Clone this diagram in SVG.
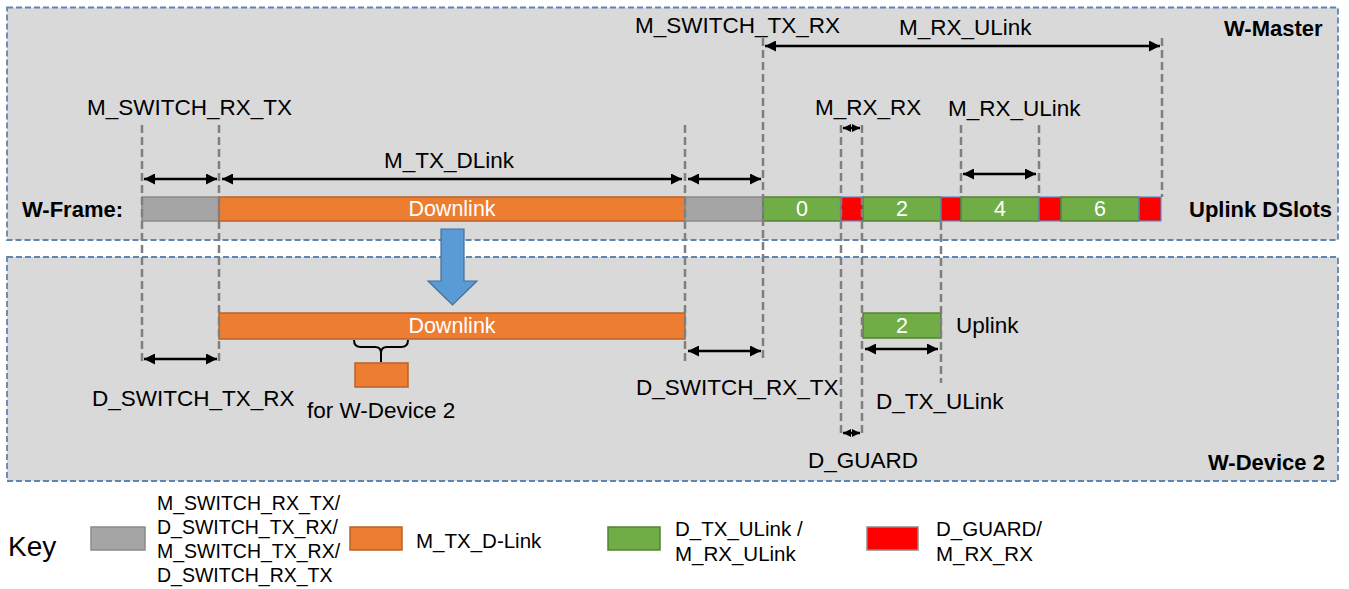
<svg xmlns="http://www.w3.org/2000/svg" width="1349" height="589" viewBox="0 0 1349 589">
  <style>
    .panel { fill: #d9d9d9; stroke: #5f86b3; stroke-width: 1.8; stroke-dasharray: 6 3; }
    .lbl { font-family: "Liberation Sans", Arial, sans-serif; font-size: 22.5px; fill: #000; }
    .bold { font-family: "Liberation Sans", Arial, sans-serif; font-size: 22px; font-weight: bold; fill: #000; }
    .inbar { font-family: "Liberation Sans", Arial, sans-serif; font-size: 21.5px; fill: #fff; text-anchor: middle; }
    .key { font-family: "Liberation Sans", Arial, sans-serif; font-size: 19.5px; fill: #000; }
    .gray { fill: #a5a5a5; stroke: #8a8a8a; stroke-width: 1.5; }
    .orange { fill: #ed7d31; stroke: #b8612a; stroke-width: 1.5; }
    .green { fill: #70ad47; stroke: #548235; stroke-width: 1.5; }
    .red { fill: #ff0000; stroke: #5b8bd0; stroke-width: 1.2; }
    .redkey { fill: #ff0000; stroke: #8a8a8a; stroke-width: 1.5; }
    .guide { stroke: #7f7f7f; stroke-width: 2.5; stroke-dasharray: 8 4; fill: none; }
    .dim { stroke: #000; stroke-width: 2.5; fill: none; marker-start: url(#head); marker-end: url(#head); }
    .dim-sm { stroke: #000; stroke-width: 2.5; fill: none; marker-start: url(#head-sm); marker-end: url(#head-sm); }
  </style>
  <defs>
    <marker id="head" viewBox="0 0 10 10" refX="10" refY="5" markerWidth="11" markerHeight="11" markerUnits="userSpaceOnUse" orient="auto-start-reverse">
      <path d="M0,0 L10,5 L0,10 z" fill="#000"/>
    </marker>
    <marker id="head-sm" viewBox="0 0 10 10" refX="10" refY="5" markerWidth="8" markerHeight="10" markerUnits="userSpaceOnUse" orient="auto-start-reverse">
      <path d="M0,0 L10,5 L0,10 z" fill="#000"/>
    </marker>
  </defs>

  <!-- master timeline panel -->
  <g id="panel-master">
    <rect class="panel" x="7" y="7.5" width="1331" height="232.5"/>
    <text class="bold" x="1224" y="36">W-Master</text>
    <text class="bold" x="22" y="217">W-Frame:</text>
    <text class="bold" x="1189" y="217">Uplink DSlots</text>
  </g>

  <!-- device timeline panel -->
  <g id="panel-device">
    <rect class="panel" x="7" y="257" width="1331" height="224"/>
    <text class="bold" x="1208" y="470">W-Device 2</text>
  </g>

  <!-- W-Frame slots -->
  <g id="frame">
    <rect class="gray" x="142" y="197" width="77" height="24"/>
    <rect class="orange" x="219" y="197" width="466" height="24"/>
    <text class="inbar" x="452" y="216">Downlink</text>
    <rect class="gray" x="685" y="197" width="78" height="24"/>
    <rect class="green" x="763" y="197" width="78" height="24"/>
    <text class="inbar" x="802" y="216">0</text>
    <rect class="red" x="841" y="197" width="22" height="24"/>
    <rect class="green" x="863" y="197" width="78" height="24"/>
    <text class="inbar" x="902" y="216">2</text>
    <rect class="red" x="941" y="197" width="20" height="24"/>
    <rect class="green" x="961" y="197" width="78" height="24"/>
    <text class="inbar" x="1000" y="216">4</text>
    <rect class="red" x="1039" y="197" width="22" height="24"/>
    <rect class="green" x="1061" y="197" width="78" height="24"/>
    <text class="inbar" x="1100" y="216">6</text>
    <rect class="red" x="1139" y="197" width="22" height="24"/>
  </g>

  <!-- transfer arrow from master to device -->
  <g id="transfer">
    <polygon points="441,229 464,229 464,281 477,281 452.5,305 428,281 441,281" fill="#5b9bd5" stroke="#41719c" stroke-width="1.2"/>
  </g>

  <!-- device downlink and uplink -->
  <g id="device-downlink">
    <rect class="orange" x="219" y="313" width="466" height="26"/>
    <text class="inbar" x="452" y="333">Downlink</text>
  </g>
  <g id="device-share">
    <path d="M354,340 q0,7 7,7 h14 q6,0 6,6 v9 M381,353 q0,-6 6,-6 h14 q7,0 7,-7" fill="none" stroke="#000" stroke-width="2"/>
    <rect class="orange" x="355" y="363" width="53" height="24"/>
    <text class="lbl" x="307" y="418">for W-Device 2</text>
  </g>
  <g id="device-uplink">
    <rect class="green" x="863" y="313" width="78" height="25"/>
    <text class="inbar" x="902" y="333">2</text>
    <text class="lbl" x="956" y="333">Uplink</text>
  </g>

  <!-- guide lines and dimension arrows -->
  <g id="connectors">
    <line class="guide" x1="142" y1="125" x2="142" y2="362"/>
    <line class="guide" x1="219" y1="125" x2="219" y2="362"/>
    <line class="guide" x1="685" y1="125" x2="685" y2="362"/>
    <line class="guide" x1="763" y1="38" x2="763" y2="362"/>
    <line class="guide" x1="841" y1="125" x2="841" y2="434"/>
    <line class="guide" x1="862" y1="125" x2="862" y2="434"/>
    <line class="guide" x1="941" y1="222" x2="941" y2="383"/>
    <line class="guide" x1="961" y1="125" x2="961" y2="197"/>
    <line class="guide" x1="1039" y1="125" x2="1039" y2="197"/>
    <line class="guide" x1="1162" y1="38" x2="1162" y2="197"/>

    <line class="dim" x1="144" y1="179" x2="217" y2="179"/>
    <line class="dim" x1="222" y1="179" x2="682" y2="179"/>
    <line class="dim" x1="688" y1="179" x2="761" y2="179"/>
    <line class="dim" x1="765" y1="46" x2="1160" y2="46"/>
    <line class="dim" x1="963" y1="174" x2="1036" y2="174"/>
    <line class="dim-sm" x1="843" y1="128" x2="860" y2="128"/>

    <line class="dim" x1="144" y1="359" x2="217" y2="359"/>
    <line class="dim" x1="688" y1="351" x2="761" y2="351"/>
    <line class="dim" x1="865" y1="349" x2="938" y2="349"/>
    <line class="dim-sm" x1="843" y1="433" x2="860" y2="433"/>
  </g>

  <!-- dimension labels -->
  <g id="labels">
    <text class="lbl" x="635" y="33">M_SWITCH_TX_RX</text>
    <text class="lbl" x="899" y="35">M_RX_ULink</text>
    <text class="lbl" x="87" y="115">M_SWITCH_RX_TX</text>
    <text class="lbl" x="815" y="115">M_RX_RX</text>
    <text class="lbl" x="948" y="116">M_RX_ULink</text>
    <text class="lbl" x="384" y="168">M_TX_DLink</text>
    <text class="lbl" x="92" y="406">D_SWITCH_TX_RX</text>
    <text class="lbl" x="636" y="395">D_SWITCH_RX_TX</text>
    <text class="lbl" x="876" y="409">D_TX_ULink</text>
    <text class="lbl" x="808" y="468">D_GUARD</text>
  </g>

  <!-- legend -->
  <g id="legend">
    <text class="lbl" x="8" y="556" style="font-size:28px">Key</text>
    <rect class="gray" x="91" y="527" width="54" height="23"/>
    <text class="key" x="157" y="510">M_SWITCH_RX_TX/</text>
    <text class="key" x="157" y="534">D_SWITCH_TX_RX/</text>
    <text class="key" x="157" y="558">M_SWITCH_TX_RX/</text>
    <text class="key" x="157" y="582">D_SWITCH_RX_TX</text>
    <rect class="orange" x="350" y="527" width="52" height="23"/>
    <text class="lbl" x="416" y="548" style="font-size:20.5px">M_TX_D-Link</text>
    <rect class="green" x="608" y="527" width="52" height="23"/>
    <text class="lbl" x="675" y="536" style="font-size:20.5px">D_TX_ULink /</text>
    <text class="lbl" x="675" y="561" style="font-size:20.5px">M_RX_ULink</text>
    <rect class="redkey" x="867" y="527" width="51" height="23"/>
    <text class="lbl" x="936" y="536" style="font-size:20.5px">D_GUARD/</text>
    <text class="lbl" x="936" y="561" style="font-size:20.5px">M_RX_RX</text>
  </g>
</svg>
